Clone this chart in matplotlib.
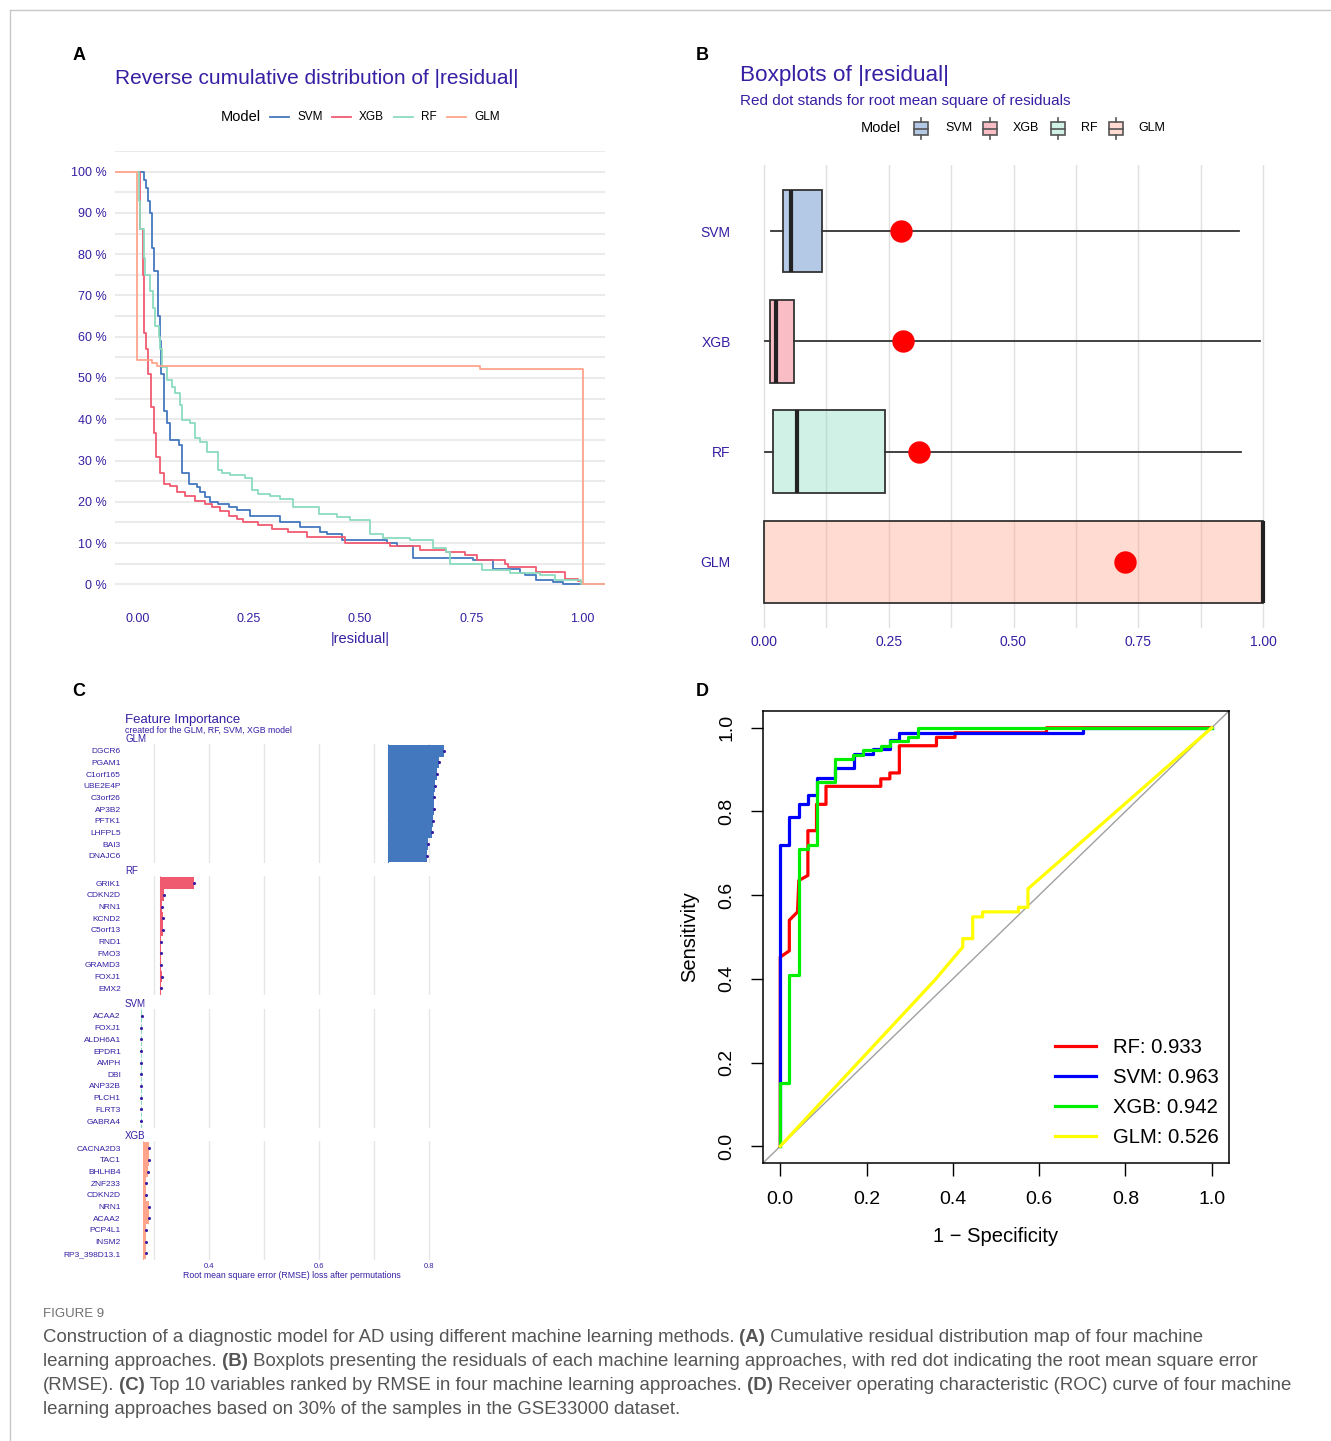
import numpy as np
import matplotlib
matplotlib.use("Agg")
import matplotlib.pyplot as plt
from matplotlib.lines import Line2D
from matplotlib.patches import Rectangle
from matplotlib.colors import to_rgba

plt.rcParams['font.family'] = ['Liberation Sans', 'DejaVu Sans']

W, H = 1331, 1441
PURPLE = '#371ea3'

# ---------------- data ----------------
model_names = ['SVM', 'XGB', 'RF', 'GLM']
model_colors = ['#4378bf', '#f05a71', '#8bdcbe', '#ffa58c']

# A: reverse cumulative distribution of |residual| (step curves, x = |residual|, y = share)
svm_x = [0.0, 0.014, 0.020, 0.025, 0.029, 0.033, 0.038, 0.046, 0.050, 0.054,
         0.059, 0.067, 0.074, 0.093, 0.100, 0.117, 0.134, 0.141, 0.152, 0.164,
         0.182, 0.205, 0.224, 0.253, 0.321, 0.365, 0.410, 0.425, 0.459, 0.560,
         0.582, 0.620, 0.754, 0.799, 0.859, 0.870, 0.896, 0.933, 0.956]
svm_y = [1.0, 0.98, 0.96, 0.93, 0.90, 0.815, 0.76, 0.65, 0.59, 0.51,
         0.42, 0.39, 0.35, 0.337, 0.271, 0.244, 0.236, 0.224, 0.212, 0.200,
         0.194, 0.188, 0.180, 0.166, 0.151, 0.138, 0.127, 0.121, 0.108, 0.100,
         0.093, 0.064, 0.058, 0.038, 0.028, 0.022, 0.011, 0.006, 0.0]
xgb_x = [0.0, 0.005, 0.013, 0.016, 0.020, 0.025, 0.031, 0.037, 0.043, 0.052,
         0.059, 0.074, 0.089, 0.108, 0.130, 0.152, 0.167, 0.186, 0.205, 0.224,
         0.238, 0.272, 0.302, 0.339, 0.380, 0.466, 0.567, 0.635, 0.694, 0.735,
         0.762, 0.825, 0.833, 0.896, 0.960, 0.990, 0.997]
xgb_y = [1.0, 0.86, 0.75, 0.61, 0.57, 0.51, 0.43, 0.366, 0.309, 0.269,
         0.244, 0.238, 0.224, 0.213, 0.202, 0.194, 0.188, 0.178, 0.166, 0.158,
         0.151, 0.143, 0.135, 0.127, 0.115, 0.101, 0.092, 0.084, 0.078, 0.070,
         0.058, 0.050, 0.042, 0.030, 0.014, 0.008, 0.0]
rf_x = [0.0, 0.003, 0.007, 0.014, 0.018, 0.029, 0.035, 0.040, 0.048, 0.052,
        0.055, 0.067, 0.078, 0.085, 0.096, 0.100, 0.119, 0.130, 0.141, 0.156,
        0.182, 0.190, 0.209, 0.242, 0.257, 0.272, 0.298, 0.321, 0.350, 0.407,
        0.448, 0.478, 0.522, 0.552, 0.612, 0.664, 0.694, 0.702, 0.773, 0.836,
        0.904, 0.937, 0.997]
rf_y = [1.0, 0.93, 0.86, 0.79, 0.75, 0.71, 0.67, 0.625, 0.60, 0.57,
        0.527, 0.495, 0.479, 0.463, 0.434, 0.398, 0.390, 0.354, 0.346, 0.321,
        0.277, 0.270, 0.265, 0.257, 0.228, 0.220, 0.213, 0.206, 0.188, 0.171,
        0.163, 0.157, 0.123, 0.113, 0.107, 0.087, 0.078, 0.050, 0.036, 0.028,
        0.022, 0.010, 0.0]
glm_x = [-0.05, 0.0, 0.033, 0.044, 0.769, 1.0]
glm_y = [1.0, 0.544, 0.537, 0.529, 0.521, 0.0]

# B: boxplot stats of |residual| and RMSE
res_q1 = [0.039, 0.012, 0.018, 0.0]
res_med = [0.055, 0.025, 0.067, 1.0]
res_q3 = [0.116, 0.060, 0.242, 1.0]
res_lo = [0.015, 0.003, 0.002, 0.0]
res_hi = [0.952, 0.994, 0.955, 1.0]
res_rmse = [0.275, 0.279, 0.311, 0.723]

# C: permutation feature importance (RMSE loss after permutation)
fi_models = ['GLM', 'RF', 'SVM', 'XGB']
fi_colors = ['#4378bf', '#f05a71', '#8bdcbe', '#ffa58c']
glm_genes = ['DGCR6', 'PGAM1', 'C1orf165', 'UBE2E4P', 'C3orf26', 'AP3B2', 'PFTK1', 'LHFPL5', 'BAI3', 'DNAJC6']
glm_loss = [0.827, 0.818, 0.815, 0.811, 0.810, 0.809, 0.807, 0.805, 0.798, 0.796]
rf_genes = ['GRIK1', 'CDKN2D', 'NRN1', 'KCND2', 'C5orf13', 'RND1', 'FMO3', 'GRAMD3', 'FOXJ1', 'EMX2']
rf_loss = [0.373, 0.318, 0.314, 0.317, 0.316, 0.313, 0.313, 0.313, 0.314, 0.313]
svm_genes = ['ACAA2', 'FOXJ1', 'ALDH6A1', 'EPDR1', 'AMPH', 'DBI', 'ANP32B', 'PLCH1', 'FLRT3', 'GABRA4']
svm_loss = [0.278, 0.277, 0.277, 0.277, 0.277, 0.277, 0.277, 0.277, 0.277, 0.277]
xgb_genes = ['CACNA2D3', 'TAC1', 'BHLHB4', 'ZNF233', 'CDKN2D', 'NRN1', 'ACAA2', 'PCP4L1', 'INSM2', 'RP3_398D13.1']
xgb_loss = [0.290, 0.290, 0.288, 0.286, 0.286, 0.290, 0.290, 0.285, 0.285, 0.285]
fi_base = [0.726, 0.310, 0.276, 0.279]

# D: ROC curves (1 - specificity, sensitivity)
roc_labels = ['RF: 0.933', 'SVM: 0.963', 'XGB: 0.942', 'GLM: 0.526']
roc_colors = ['#ff0000', '#0000ff', '#00ee00', '#ffff00']
rf_fpr = [0, 0, 0.021, 0.021, 0.040, 0.043, 0.064, 0.064, 0.084, 0.084, 0.106, 0.106, 0.233, 0.233,
          0.254, 0.254, 0.276, 0.276, 0.362, 0.362, 0.405, 0.405, 0.617, 0.617, 1.0]
rf_tpr = [0, 0.452, 0.467, 0.540, 0.560, 0.635, 0.647, 0.754, 0.754, 0.817, 0.817, 0.860, 0.860, 0.878,
          0.878, 0.892, 0.892, 0.957, 0.957, 0.977, 0.977, 0.988, 0.988, 1.0, 1.0]
svm_fpr = [0, 0, 0.021, 0.021, 0.043, 0.043, 0.064, 0.064, 0.084, 0.084, 0.127, 0.127, 0.172, 0.172,
           0.214, 0.214, 0.255, 0.255, 0.276, 0.276, 0.702, 0.702, 1.0]
svm_tpr = [0, 0.721, 0.721, 0.786, 0.786, 0.817, 0.817, 0.839, 0.839, 0.881, 0.881, 0.903, 0.903, 0.937,
           0.937, 0.950, 0.950, 0.970, 0.970, 0.988, 0.988, 1.0, 1.0]
xgb_fpr = [0, 0, 0.021, 0.021, 0.043, 0.043, 0.064, 0.064, 0.084, 0.084, 0.127, 0.127, 0.169, 0.169,
           0.192, 0.192, 0.233, 0.233, 0.254, 0.254, 0.297, 0.297, 0.319, 0.319, 1.0]
xgb_tpr = [0, 0.152, 0.152, 0.409, 0.409, 0.710, 0.710, 0.721, 0.721, 0.871, 0.871, 0.925, 0.925, 0.935,
           0.935, 0.946, 0.946, 0.956, 0.956, 0.968, 0.968, 0.979, 0.979, 1.0, 1.0]
glm_fpr = [0, 0.359, 0.423, 0.423, 0.446, 0.446, 0.469, 0.469, 0.552, 0.552, 0.574, 0.574, 1.0]
glm_tpr = [0, 0.398, 0.476, 0.496, 0.496, 0.548, 0.548, 0.560, 0.560, 0.571, 0.571, 0.615, 1.0]


def rect(l, t, r, b):
    return [l / W, 1 - b / H, (r - l) / W, (b - t) / H]


def fx(x):
    return x / W


def fy(y):
    return 1 - y / H


fig = plt.figure(figsize=(W / 100, H / 100), dpi=100)

# page border
fig.add_artist(Line2D([fx(10), fx(10)], [0, fy(10)], color='#c8c8c8', lw=1))
fig.add_artist(Line2D([fx(10), 1], [fy(10), fy(10)], color='#c8c8c8', lw=1))

for letter, x, y in [('A', 79, 55), ('B', 702, 55), ('C', 79, 692), ('D', 702, 692)]:
    fig.text(fx(x), fy(y), letter, fontsize=13, fontweight='bold', ha='center', va='center')

# ---------------- A ----------------
axA = fig.add_axes(rect(115, 151, 605, 605))
curves = [(svm_x, svm_y), (xgb_x, xgb_y), (rf_x, rf_y), (glm_x, glm_y)]
for (xs, ys), c in zip(curves, model_colors):
    axA.step(xs + [1.05], ys + [0.0], where='post', color=c, lw=1.3)
axA.set_xlim(-0.05, 1.05)
axA.set_ylim(-0.05, 1.05)
axA.set_yticks(np.arange(0, 1.01, 0.1), ['%d %%' % v for v in range(0, 101, 10)])
axA.set_yticks(np.arange(0.05, 1.06, 0.1), minor=True)
axA.set_xticks([0, 0.25, 0.5, 0.75, 1.0], ['0.00', '0.25', '0.50', '0.75', '1.00'])
axA.grid(axis='y', which='both', color='#ebebeb', lw=1.5)
axA.set_axisbelow(True)
axA.tick_params(which='both', length=0, labelcolor=PURPLE, labelsize=9)
axA.tick_params(axis='x', pad=6)
axA.tick_params(axis='y', pad=6)
for s in axA.spines.values():
    s.set_visible(False)
axA.set_xlabel('|residual|', color=PURPLE, fontsize=10.5, labelpad=5)
fig.text(fx(115), fy(79), 'Reverse cumulative distribution of |residual|', color=PURPLE,
         fontsize=15, va='center')
fig.text(fx(221), fy(117), 'Model', fontsize=10.5, va='center')
for (l0, l1, tx), name, c in zip([(270, 289, 297), (332, 351, 359), (394, 413, 421), (447, 466, 474)],
                                 model_names, model_colors):
    fig.add_artist(Line2D([fx(l0), fx(l1)], [fy(117), fy(117)], color=c, lw=1.3))
    fig.text(fx(tx), fy(117), name, fontsize=8.5, va='center')

# ---------------- B ----------------
axB = fig.add_axes(rect(739, 165, 1288, 628))
pos = [4, 3, 2, 1]
stats = [dict(med=m, q1=a, q3=b, whislo=lo, whishi=hi, label=n)
         for n, a, m, b, lo, hi in zip(model_names, res_q1, res_med, res_q3, res_lo, res_hi)]
bp = axB.bxp(stats, positions=pos, widths=0.75, orientation='horizontal', patch_artist=True,
             showcaps=False, showfliers=False,
             boxprops=dict(edgecolor='#333333', lw=1.3),
             whiskerprops=dict(color='#333333', lw=1.3),
             medianprops=dict(color='#222222', lw=3, solid_capstyle='butt'))
for patch, c in zip(bp['boxes'], model_colors):
    patch.set_facecolor(to_rgba(c, 0.4))
axB.scatter(res_rmse, pos, s=260, color='#ff0000', zorder=5, linewidths=0)
axB.set_xlim(-0.05, 1.05)
axB.set_ylim(0.4, 4.6)
axB.set_xticks([0, 0.25, 0.5, 0.75, 1.0], ['0.00', '0.25', '0.50', '0.75', '1.00'])
axB.set_xticks(np.arange(0.125, 1.0, 0.25), minor=True)
axB.grid(axis='x', which='both', color='#e0e0e0', lw=1)
axB.set_axisbelow(True)
axB.tick_params(which='both', length=0, labelcolor=PURPLE, labelsize=10)
axB.tick_params(axis='x', pad=5)
axB.tick_params(axis='y', pad=6)
for s in axB.spines.values():
    s.set_visible(False)
fig.text(fx(740), fy(75), 'Boxplots of |residual|', color=PURPLE, fontsize=16.2, va='center')
fig.text(fx(740), fy(101), 'Red dot stands for root mean square of residuals', color=PURPLE,
         fontsize=11, va='center')
fig.text(fx(861), fy(128), 'Model', fontsize=10.5, va='center')
for (ix, tx), name, c in zip([(914, 945), (983, 1013), (1051, 1081), (1109, 1138)], model_names, model_colors):
    fig.add_artist(Rectangle((fx(ix), fy(135)), 14 / W, 13 / H, facecolor=to_rgba(c, 0.4),
                             edgecolor='#555555', lw=1.2))
    fig.add_artist(Line2D([fx(ix), fx(ix + 14)], [fy(128.5), fy(128.5)], color='#555555', lw=1.2))
    fig.add_artist(Line2D([fx(ix + 7), fx(ix + 7)], [fy(118), fy(122)], color='#555555', lw=1.2))
    fig.add_artist(Line2D([fx(ix + 7), fx(ix + 7)], [fy(135), fy(139)], color='#555555', lw=1.2))
    fig.text(fx(tx), fy(128), name, fontsize=9, va='center')

# ---------------- C ----------------
fi_genes = [glm_genes, rf_genes, svm_genes, xgb_genes]
fi_loss = [glm_loss, rf_loss, svm_loss, xgb_loss]
first_rows = [750.7, 883.3, 1016.0, 1148.3]
rows = np.arange(10, 0, -1)
for k, (mname, col, genes, loss, base, top) in enumerate(zip(fi_models, fi_colors, fi_genes, fi_loss,
                                                            fi_base, first_rows)):
    ax = fig.add_axes(rect(125, top - 7, 459, top + 112))
    ax.axvline(base, color=col, ls='--', lw=0.8, zorder=1)
    ax.barh(rows, np.array(loss) - base, left=base, height=1.0, color=col, zorder=2)
    ax.scatter(loss, rows, s=5, color=PURPLE, zorder=3, linewidths=0)
    ax.set_xlim(0.247, 0.855)
    ax.set_ylim(0.4, 10.6)
    ax.set_yticks(rows, genes)
    ax.set_xticks([0.4, 0.6, 0.8], ['0.4', '0.6', '0.8'])
    ax.set_xticks([0.3, 0.5, 0.7], minor=True)
    ax.grid(axis='x', which='both', color='#e6e6e6', lw=1)
    ax.set_axisbelow(True)
    ax.tick_params(which='both', length=0, labelcolor=PURPLE)
    ax.tick_params(axis='y', labelsize=6, pad=3)
    ax.tick_params(axis='x', labelsize=5.5, pad=2)
    for s in ax.spines.values():
        s.set_visible(False)
    ax.text(0, 1.0, mname, transform=ax.transAxes, color=PURPLE, fontsize=7, va='bottom', ha='left')
    if k < 3:
        ax.tick_params(axis='x', labelbottom=False)
    else:
        ax.set_xlabel('Root mean square error (RMSE) loss after permutations', color=PURPLE,
                      fontsize=6.3, labelpad=1)
fig.text(fx(125), fy(720), 'Feature Importance', color=PURPLE, fontsize=9.5, va='center')
fig.text(fx(125), fy(730), 'created for the GLM, RF, SVM, XGB model', color=PURPLE, fontsize=6.3,
         va='center')

# ---------------- D ----------------
axD = fig.add_axes(rect(763, 711, 1229, 1163))
axD.plot([-0.04, 1.04], [-0.04, 1.04], color='#a0a0a0', lw=1)
roc = [(rf_fpr, rf_tpr), (svm_fpr, svm_tpr), (xgb_fpr, xgb_tpr), (glm_fpr, glm_tpr)]
for (xs, ys), c, lab in zip(roc, roc_colors, roc_labels):
    axD.plot(xs, ys, color=c, lw=2.3, label=lab)
axD.set_xlim(-0.04, 1.04)
axD.set_ylim(-0.04, 1.04)
ticks = [0, 0.2, 0.4, 0.6, 0.8, 1.0]
axD.set_xticks(ticks, ['%.1f' % t for t in ticks])
axD.set_yticks(ticks, ['%.1f' % t for t in ticks], rotation=90, va='center')
axD.tick_params(direction='out', length=9, width=1, labelsize=14, pad=11)
for s in axD.spines.values():
    s.set_linewidth(1.1)
axD.set_xlabel('1 \u2212 Specificity', fontsize=14.5, labelpad=14)
axD.set_ylabel('Sensitivity', fontsize=14.5, labelpad=14)
axD.legend(loc='lower right', bbox_to_anchor=(0.978, 0.035), frameon=False, fontsize=14.6,
           handlelength=2.0, handletextpad=0.85, labelspacing=0.55, borderpad=0, borderaxespad=0)

# ---------------- caption ----------------
cap_fam = ['Liberation Sans Narrow', 'Liberation Sans']
fig.text(fx(43), fy(1317), 'FIGURE 9', fontsize=9.5, color='#707070', family=cap_fam, va='baseline')
caption = [
    [('Construction of a diagnostic model for AD using different machine learning methods.', False),
     (' (A)', True), (' Cumulative residual distribution map of four machine', False)],
    [('learning approaches.', False), (' (B)', True),
     (' Boxplots presenting the residuals of each machine learning approaches, with red dot indicating the root mean square error', False)],
    [('(RMSE).', False), (' (C)', True),
     (' Top 10 variables ranked by RMSE in four machine learning approaches.', False), (' (D)', True),
     (' Receiver operating characteristic (ROC) curve of four machine', False)],
    [('learning approaches based on 30% of the samples in the GSE33000 dataset.', False)],
]
renderer = fig.canvas.get_renderer()
for i, line in enumerate(caption):
    x = fx(43)
    for txt, bold in line:
        t = fig.text(x, fy(1342 + 24 * i), txt, fontsize=13.4, color='#555555', family=cap_fam,
                     fontweight='bold' if bold else 'normal', va='baseline', ha='left')
        x += t.get_window_extent(renderer).width / W

fig.savefig('out.png', dpi=100)
